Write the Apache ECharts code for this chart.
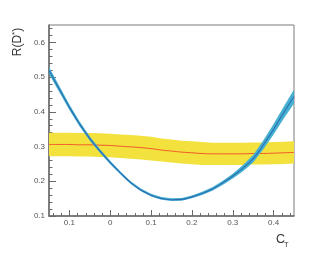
<!DOCTYPE html>
<html>
<head>
<meta charset="utf-8">
<script src="https://cdn.jsdelivr.net/npm/echarts@6/dist/echarts.min.js"></script>
<style>html,body{margin:0;padding:0;background:#fff}#c{width:327px;height:254px}</style>
</head>
<body>
<div id="c"></div>
<script>
// ---- data ----
var xs = [-0.15,-0.125,-0.1,-0.075,-0.05,-0.025,0,0.025,0.05,0.075,0.1,0.125,0.15,0.175,0.2,0.225,0.25,0.275,0.3,0.325,0.35,0.375,0.4,0.425,0.45];
var blueCenter = [0.519,0.466,0.413,0.365,0.323,0.287,0.254,0.224,0.196,0.175,0.160,0.151,0.147,0.148,0.155,0.165,0.178,0.195,0.215,0.238,0.265,0.305,0.350,0.398,0.444];
var blueErr = [0.010,0.009,0.008,0.007,0.006,0.0055,0.005,0.0045,0.004,0.004,0.004,0.004,0.004,0.004,0.004,0.0045,0.005,0.006,0.007,0.009,0.011,0.013,0.015,0.017,0.020];
var yellowCenter = [0.306,0.306,0.306,0.305,0.305,0.304,0.303,0.301,0.299,0.297,0.294,0.290,0.287,0.284,0.282,0.280,0.279,0.279,0.279,0.279,0.280,0.280,0.281,0.282,0.283];
var yellowErr = [0.034,0.034,0.034,0.034,0.034,0.034,0.034,0.034,0.034,0.034,0.034,0.033,0.033,0.033,0.033,0.033,0.032,0.032,0.032,0.032,0.032,0.032,0.032,0.032,0.032];
var xTickValues = [-0.1,0,0.1,0.2,0.3,0.4];
var xTickLabels = ['0.1','0','0.1','0.2','0.3','0.4'];
var yTickValues = [0.1,0.2,0.3,0.4,0.5,0.6];
var yTickLabels = ['0.1','0.2','0.3','0.4','0.5','0.6'];
var xMin = -0.15, xMax = 0.45, yMin = 0.1, yMax = 0.65;

// ---- build ----
function pairs(arr){ return xs.map(function(x,i){ return [x, arr[i]]; }); }
var xMinor = [], yMinor = [];
for (var k = -7; k <= 22; k++) { var v = +(k*0.02).toFixed(3); if (v > xMin && v < xMax) xMinor.push(v); }
for (var k2 = 5; k2 <= 32; k2++) { var w = +(k2*0.02).toFixed(3); if (w > yMin && w < yMax) yMinor.push(w); }

function lab(values, labels){ return function(v){ for (var i=0;i<values.length;i++){ if (Math.abs(values[i]-v)<1e-6) return labels[i]; } return ''; }; }

function bandSeries(center, err, color, z){
  return {
    type: 'custom', z: z, silent: true,
    data: [[xs[0], center[0]]],
    renderItem: function(params, api){
      var pts = [];
      for (var i = 0; i < xs.length; i++) pts.push(api.coord([xs[i], center[i] + err[i]]));
      for (var j = xs.length - 1; j >= 0; j--) pts.push(api.coord([xs[j], center[j] - err[j]]));
      return {type: 'polygon', shape: {points: pts}, style: {fill: color, stroke: null}};
    }
  };
}

var axisCol = '#6a6a6a';
var chart = echarts.init(document.getElementById('c'));
chart.setOption({
  animation: false,
  backgroundColor: '#fff',
  grid: {left: 49, right: 33, top: 25, bottom: 38, show: true, borderColor: '#7a7a7a', borderWidth: 1, backgroundColor: 'transparent'},
  xAxis: [{
    type: 'value', min: xMin, max: xMax,
    axisLine: {onZero: false, lineStyle: {color: axisCol, width: 1.5}},
    axisTick: {inside: true, length: 6, customValues: xTickValues, lineStyle: {color: axisCol}},
    axisLabel: {customValues: xTickValues, formatter: lab(xTickValues, xTickLabels), color: '#555', fontSize: 8, fontFamily: 'Liberation Sans', margin: 3},
    splitLine: {show: false}
  },{
    type: 'value', min: xMin, max: xMax, position: 'bottom',
    axisLine: {show: false, onZero: false},
    axisTick: {inside: true, length: 3, customValues: xMinor, lineStyle: {color: axisCol}},
    axisLabel: {show: false}, splitLine: {show: false}
  }],
  yAxis: [{
    type: 'value', min: yMin, max: yMax,
    axisLine: {onZero: false, lineStyle: {color: axisCol, width: 1.5}},
    axisTick: {inside: true, length: 7, customValues: yTickValues, lineStyle: {color: axisCol}},
    axisLabel: {customValues: yTickValues, formatter: lab(yTickValues, yTickLabels), color: '#555', fontSize: 8, fontFamily: 'Liberation Sans', margin: 4},
    splitLine: {show: false}
  },{
    type: 'value', min: yMin, max: yMax, position: 'left',
    axisLine: {show: false, onZero: false},
    axisTick: {inside: true, length: 3.5, customValues: yMinor, lineStyle: {color: axisCol}},
    axisLabel: {show: false}, splitLine: {show: false}
  }],
  series: [
    bandSeries(yellowCenter, yellowErr, '#f3e23e', 1),
    {type: 'line', data: pairs(yellowCenter), smooth: true, symbol: 'none', lineStyle: {color: '#f2572a', width: 1}, z: 2},
    bandSeries(blueCenter, blueErr, '#45b0cf', 3),
    {type: 'line', data: pairs(blueCenter), smooth: true, symbol: 'none', lineStyle: {color: '#2b6db3', width: 1.1}, z: 4}
  ],
  graphic: [
    {type: 'text', x: 18, y: 42, rotation: Math.PI/2, style: {
      text: 'R(D{s|*})', align: 'center', verticalAlign: 'middle',
      fontSize: 12, fontFamily: 'Liberation Sans', fill: '#333',
      rich: {s: {fontSize: 8, fontFamily: 'Liberation Sans', fill: '#333', verticalAlign: 'top', lineHeight: 14}}
    }},
    {type: 'text', x: 276, y: 233, style: {text: 'C', fontSize: 12.5, fontFamily: 'Liberation Sans', fill: '#333'}},
    {type: 'text', x: 284, y: 241, style: {text: 'T', fontSize: 7.5, fontFamily: 'Liberation Sans', fill: '#333'}}
  ]
});
</script>
</body>
</html>
